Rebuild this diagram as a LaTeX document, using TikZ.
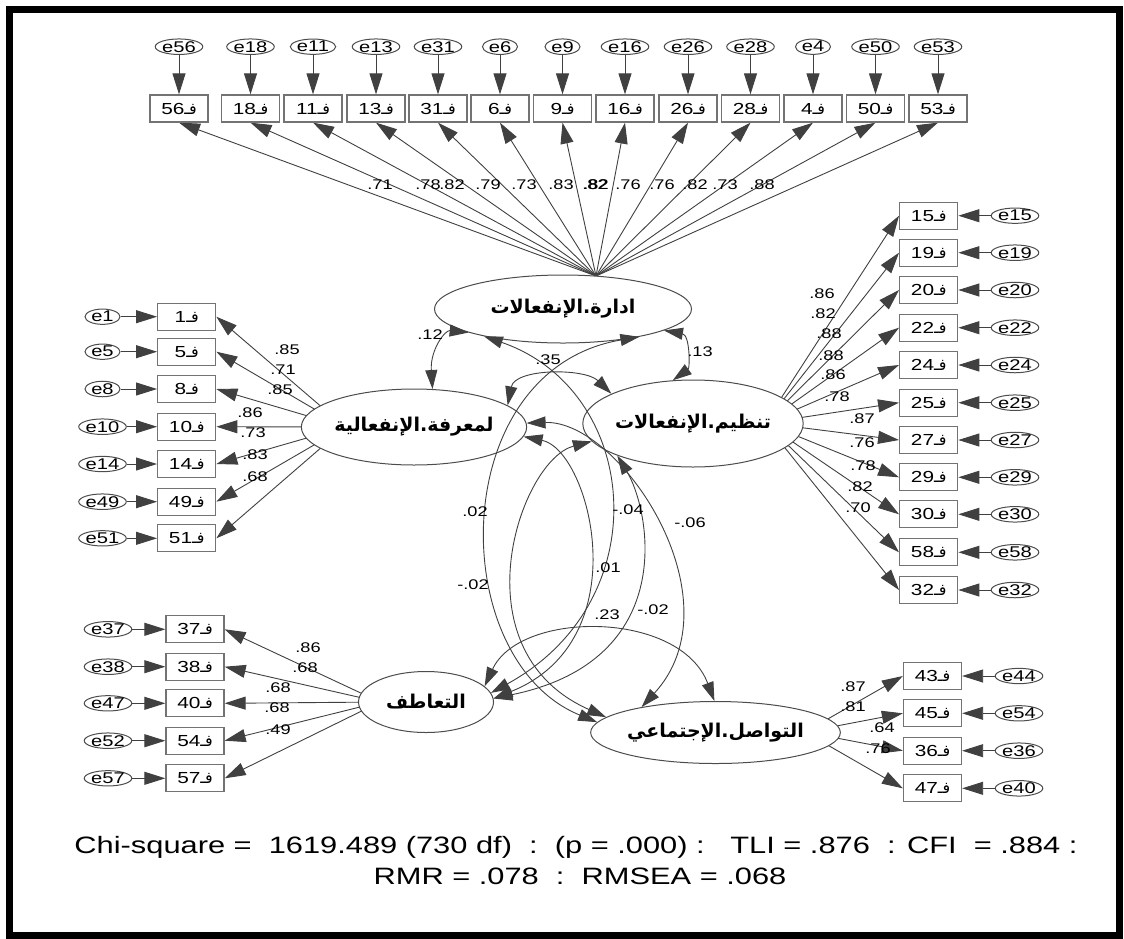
\documentclass[tikz,border=0pt]{standalone}
\usepackage{fontspec}
\setmainfont[FakeStretch=1.3]{Liberation Sans}
\newfontfamily\arabicfont[Script=Arabic]{DejaVu Sans}
\TeXXeTstate=1
\usetikzlibrary{arrows.meta,shapes.geometric,backgrounds}
% item label: number then the letter fa with tatweel
\newcommand{\fitem}[1]{#1{\arabicfont\beginR فـ\endR}}

\begin{document}
\begin{tikzpicture}[x=1pt, y=-1pt,
  item/.style={draw=black!55, line width=1.3pt, fill=white, inner sep=0pt,
    minimum width=58pt, minimum height=27pt, font=\fontsize{16}{16}\selectfont},
  err/.style={ellipse, draw=black!70, line width=1pt, inner sep=0pt,
    minimum width=35pt, minimum height=15pt, font=\fontsize{15.5}{15.5}\selectfont},
  latent/.style={ellipse, draw=black!70, line width=1pt, fill=white, inner sep=0pt,
    font=\fontsize{19}{19}\selectfont\arabicfont\bfseries},
  ln/.style={draw=black!75, line width=0.9pt},
  arr/.style={ln, -{Triangle[length=21pt,width=13pt]}},
  cov/.style={ln, {Triangle[length=19pt,width=12pt]}-{Triangle[length=19pt,width=12pt]}},
  lbl/.style={font=\fontsize{14}{14}\selectfont, inner sep=0pt},
  fit/.style={font=\fontsize{23.7}{24}\selectfont, inner sep=0pt},
]
\useasboundingbox (0,0) rectangle (1124,938);
\draw[line width=7pt] (9,9) rectangle (1119,935);

% latent factors
\node[latent, minimum width=257pt, minimum height=68pt] (M) at (563,309) {\beginR ادارة.الإنفعالات\endR};
\node[latent, minimum width=195pt, minimum height=76pt] (K) at (414,427) {\beginR لمعرفة.الإنفعالية\endR};
\node[latent, minimum width=212pt, minimum height=87pt] (T) at (693,423.5) {\beginR تنظيم.الإنفعالات\endR};
\node[latent, minimum width=135pt, minimum height=61pt] (E) at (426,702) {\beginR التعاطف\endR};
\node[latent, minimum width=237pt, minimum height=62pt] (S) at (715.5,732.5) {\beginR التواصل.الإجتماعي\endR};
\coordinate (Mh) at (596,276);
\coordinate (Kh) at (345,427);
\coordinate (Th) at (765,423);
\coordinate (Eh) at (380,702);
\coordinate (Sh) at (805,732);

% top row (M)
\foreach \n/\m/\x in {56/56/179,18/18/250.5,11/11/313,13/13/376,31/31/438,6/6/500,
    9/9/562.5,16/16/625,26/26/688,28/28/750.5,4/4/813,50/50/875.5,53/53/938}{
  \node[item] (i\n) at (\x,108.5) {\fitem{\n}};
  \node[err] (e\m) at (\x,46.7) {e\m};
  \draw[arr] (e\m) -- (i\n);
}
% right column (T)
\foreach \n/\m/\y in {15/15/215.7,19/19/252.7,20/20/290,22/22/327.7,24/24/365,25/25/402.7,
    27/27/440,29/29/477.3,30/30/514.3,58/58/552.3,32/32/590}{
  \node[item] (i\n) at (928.7,\y) {\fitem{\n}};
  \node[err] (e\m) at (1015,\y) {e\m};
  \draw[arr] (e\m) -- (i\n);
}
% left column (K)
\foreach \n/\m/\y in {1/1/316.7,5/5/351.7,8/8/389,10/10/426.7,14/14/464,49/49/501.7,51/51/538.3}{
  \node[item] (i\n) at (186.7,\y) {\fitem{\n}};
  \node[err] (e\m) at (102.5,\y) {e\m};
  \draw[arr] (e\m) -- (i\n);
}
% bottom left (E)
\foreach \n/\m/\y in {37/37/629.3,38/38/666.7,40/47/703.3,54/52/740.7,57/57/778.3}{
  \node[item] (i\n) at (195,\y) {\fitem{\n}};
  \node[err] (e\m) at (108,\y) {e\m};
  \draw[arr] (e\m) -- (i\n);
}
% bottom right (S)
\foreach \n/\m/\y in {43/44/676,45/54/713.3,36/36/750.7,47/40/788.3}{
  \node[item] (i\n) at (932.5,\y) {\fitem{\n}};
  \node[err] (e\m) at (1019,\y) {e\m};
  \draw[arr] (e\m) -- (i\n);
}

% loadings
\begin{scope}[on background layer]
\foreach \n in {56,18,11,13,31,6,9,16,26,28,4,50,53} \draw[arr] (Mh) -- (i\n.south);
\foreach \n in {15,19,20,22,24,25,27,29,30,58,32} \draw[arr] (Th) -- (i\n.west);
\foreach \n in {1,5,8,10,14,49,51} \draw[arr] (Kh) -- (i\n.east);
\foreach \n in {37,38,40,54,57} \draw[arr] (Eh) -- (i\n.east);
\foreach \n in {43,45,36,47} \draw[arr] (Sh) -- (i\n.west);
\end{scope}
\foreach \t/\x [count=\i] in {.71/380,.78/428,.82/452,.79/488,.73/524,.83/561,.82/595,
    .82/596,.76/628,.76/662,.82/695,.73/725,.88/762}
  \node[lbl] (lm\i) at (\x,185) {\t};
\foreach \t/\x/\y [count=\i] in {.86/822/294,.82/823/314,.88/829/334,.88/831/356,.86/833/375,
    .78/837/397,.87/862/419,.76/862/443,.78/863/466,.82/860/487,.70/858/508}
  \node[lbl] (lt\i) at (\x,\y) {\t};
\foreach \t/\x/\y [count=\i] in {.85/287/350,.71/283/370,.85/280/390,.86/250/413,.73/253/433,
    .83/255/455,.68/255/477}
  \node[lbl] (lk\i) at (\x,\y) {\t};
\foreach \t/\x/\y [count=\i] in {.86/308/648,.68/305/668,.68/278/688,.68/277/708,.49/278/730}
  \node[lbl] (le\i) at (\x,\y) {\t};
\foreach \t/\x/\y [count=\i] in {.87/853/687,.81/853/707,.64/882/728,.76/878/749}
  \node[lbl] (ls\i) at (\x,\y) {\t};

% covariances
\draw[cov] (K.64) .. controls (430,350) and (445,330) .. (M.194);
\draw[cov] (M.348) .. controls (690,335) and (690,368) .. (T.115);
\draw[cov] (K.13) .. controls (515,368) and (585,368) .. (T.160);
\draw[cov] (M.199) .. controls (640,390) and (660,600) .. (E.8);
\draw[cov] (M.340) .. controls (445,370) and (445,660) .. (S.175);
\draw[cov] (T.190) .. controls (520,460) and (455,650) .. (S.172);
\draw[cov] (K.2) .. controls (620,420) and (740,600) .. (S.161);
\draw[cov] (K.355) .. controls (590,450) and (640,640) .. (E.3);
\draw[cov] (T.203) .. controls (650,510) and (680,660) .. (E.3);
\draw[cov] (E.15) .. controls (520,610) and (680,610) .. (S.92);
\node[lbl] (c1) at (430,335) {.12};
\node[lbl] (c2) at (548,360) {.35};
\node[lbl] (c3) at (700,352) {.13};
\node[lbl] (c4) at (475,512) {.02};
\node[lbl] (c5) at (473,585) {-.02};
\node[lbl] (c6) at (608,568) {.01};
\node[lbl] (c7) at (628,510) {-.04};
\node[lbl] (c8) at (690,523) {-.06};
\node[lbl] (c9) at (653,610) {-.02};
\node[lbl] (c10) at (607,615) {.23};

% fit indices
\node[fit] (fit1) at (576,847) {Chi-square =\ \ 1619.489 (730 df)\ \ :\ \ (p = .000) :\ \ \ TLI = .876\ \ : CFI\ \ = .884 :};
\node[fit] (fit2) at (580,876) {RMR = .078\ \ :\ \ RMSEA = .068};
\end{tikzpicture}
\end{document}
